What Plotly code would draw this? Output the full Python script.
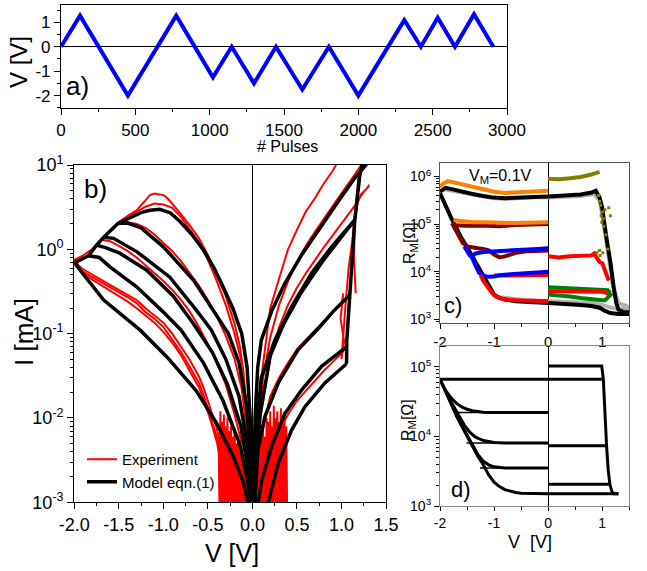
import plotly.graph_objects as go

FONT = "Arial, Liberation Sans, sans-serif"
W, H = 647, 571

# ---------------- Panel a: pulse protocol ----------------
pulse_n = [0, 128, 450, 775, 1022, 1148, 1298, 1446, 1623, 1802, 2000, 2309, 2421, 2534, 2650, 2778, 2908]
pulse_v = [0, 1.27, -2.0, 1.27, -1.25, 0, -1.5, 0, -1.75, 0, -2.0, 1.09, 0, 1.19, 0, 1.33, 0]

# ---------------- Panel b: experiment (red) ----------------
exp_neg1_v = [-2.0, -1.9, -1.8, -1.7, -1.6, -1.5, -1.4, -1.3, -1.2, -1.15, -1.1, -1.05, -1.0, -0.95, -0.9, -0.8, -0.7, -0.6, -0.5, -0.4, -0.3, -0.2, -0.14, -0.1, -0.07, -0.05]
exp_neg1_i = [0.75, 0.85, 1.0, 1.25, 1.6, 2.1, 2.5, 2.9, 3.9, 4.4, 4.6, 4.5, 4.4, 4.0, 3.5, 2.6, 1.9, 1.35, 0.85, 0.5, 0.28, 0.13, 0.07, 0.035, 0.012, 0.003]
exp_neg2_v = [-1.5, -1.4, -1.3, -1.2, -1.1, -1.0, -0.9, -0.8, -0.7, -0.6, -0.5, -0.4, -0.3, -0.2, -0.12, -0.08, -0.05]
exp_neg2_i = [2.1, 2.4, 2.8, 3.2, 3.5, 3.4, 3.1, 2.4, 1.7, 1.2, 0.75, 0.42, 0.22, 0.1, 0.045, 0.02, 0.006]
exp_neg3_v = [-1.5, -1.4, -1.3, -1.2, -1.1, -1.0, -0.9, -0.8, -0.7, -0.6, -0.5, -0.4, -0.3, -0.2, -0.12, -0.07]
exp_neg3_i = [2.0, 2.1, 2.0, 1.8, 1.5, 1.2, 0.95, 0.72, 0.52, 0.37, 0.25, 0.16, 0.095, 0.05, 0.022, 0.008]
exp_neg4_v = [-1.7, -1.6, -1.5, -1.4, -1.3, -1.2, -1.1, -1.0, -0.9, -0.8, -0.7, -0.6, -0.5, -0.4, -0.3, -0.2, -0.12]
exp_neg4_i = [1.3, 1.25, 1.1, 0.95, 0.8, 0.65, 0.52, 0.42, 0.33, 0.25, 0.18, 0.12, 0.075, 0.045, 0.025, 0.011, 0.005]
exp_neg5_v = [-2.0, -1.95, -1.9, -1.8, -1.7, -1.6, -1.5, -1.4, -1.3, -1.2, -1.1, -1.0, -0.9, -0.8, -0.7, -0.6, -0.55, -0.5, -0.45, -0.4, -0.36]
exp_neg5_i = [0.75, 0.6, 0.54, 0.47, 0.41, 0.36, 0.31, 0.27, 0.23, 0.18, 0.15, 0.12, 0.085, 0.06, 0.04, 0.026, 0.019, 0.013, 0.009, 0.006, 0.004]
exp_neg6_i = [0.72, 0.58, 0.51, 0.44, 0.38, 0.33, 0.28, 0.24, 0.2, 0.165, 0.135, 0.105, 0.078, 0.055, 0.036, 0.023, 0.017, 0.012, 0.008, 0.0052, 0.0032]
exp_neg7_i = [0.78, 0.64, 0.58, 0.5, 0.44, 0.38, 0.33, 0.29, 0.25, 0.2, 0.165, 0.135, 0.1, 0.07, 0.048, 0.031, 0.023, 0.016, 0.011, 0.0075, 0.005]

exp_pos1_v = [0.03, 0.06, 0.1, 0.15, 0.2, 0.3, 0.4, 0.5, 0.6, 0.7, 0.8, 0.9, 0.95]
exp_pos1_i = [0.002, 0.01, 0.03, 0.08, 0.2, 0.45, 1.0, 1.7, 2.8, 4.0, 6.0, 8.5, 10.5]
exp_pos2_v = [0.03, 0.07, 0.12, 0.2, 0.3, 0.4, 0.5, 0.6, 0.7, 0.8, 0.9, 1.0, 1.1, 1.2, 1.25]
exp_pos2_i = [0.002, 0.009, 0.03, 0.09, 0.22, 0.42, 0.7, 1.1, 1.6, 2.3, 3.3, 4.6, 6.5, 9.0, 11.0]
exp_pos3_v = [0.05, 0.1, 0.2, 0.3, 0.4, 0.5, 0.6, 0.7, 0.8, 0.9, 1.0, 1.1, 1.15, 1.2, 1.25, 1.3, 1.31, 1.28, 1.22, 1.18, 1.15, 1.14, 1.16]
exp_pos3_i = [0.003, 0.012, 0.05, 0.12, 0.22, 0.35, 0.52, 0.75, 1.05, 1.45, 2.0, 2.8, 3.3, 4.0, 4.8, 5.5, 5.8, 5.2, 4.5, 3.5, 2.2, 0.8, 0.3]
exp_pos4_v = [0.05, 0.1, 0.2, 0.3, 0.4, 0.5, 0.6, 0.7, 0.8, 0.9, 0.95, 1.0, 1.02, 0.99, 1.03, 1.0, 1.05, 1.08, 1.12, 1.15, 1.18, 1.2]
exp_pos4_i = [0.002, 0.006, 0.018, 0.03, 0.045, 0.065, 0.085, 0.11, 0.14, 0.18, 0.2, 0.22, 0.3, 0.15, 0.08, 0.05, 0.25, 0.6, 1.2, 2.5, 5.0, 9.0]
exp_pos5_v = [0.1, 0.2, 0.3, 0.4, 0.5, 0.6, 0.7, 0.8, 0.9, 1.0, 1.03]
exp_pos5_i = [0.002, 0.004, 0.007, 0.011, 0.016, 0.021, 0.028, 0.036, 0.046, 0.058, 0.065]

noise_neg_v = [-0.38, -0.37, -0.36, -0.35, -0.34, -0.33, -0.32, -0.31, -0.30, -0.29, -0.28, -0.27, -0.26, -0.25, -0.24, -0.23, -0.22, -0.21, -0.20, -0.19, -0.18, -0.17, -0.16, -0.15, -0.14, -0.13, -0.12, -0.11, -0.10, -0.09, -0.08, -0.07, -0.06, -0.05]
noise_neg_i = [0.006, 0.0009, 0.012, 0.0008, 0.009, 0.0008, 0.011, 0.0009, 0.008, 0.0008, 0.010, 0.0008, 0.007, 0.0009, 0.008, 0.0008, 0.006, 0.0008, 0.007, 0.0009, 0.005, 0.0008, 0.006, 0.0008, 0.004, 0.0009, 0.0045, 0.0008, 0.003, 0.0008, 0.0025, 0.0009, 0.002, 0.0008]
noise_pos_v = [0.06, 0.07, 0.08, 0.09, 0.10, 0.11, 0.12, 0.13, 0.14, 0.15, 0.16, 0.17, 0.18, 0.19, 0.20, 0.21, 0.22, 0.23, 0.24, 0.25, 0.26, 0.27, 0.28, 0.29, 0.30, 0.31, 0.32, 0.33, 0.34, 0.35, 0.36, 0.37, 0.38, 0.39]
noise_pos_i = [0.003, 0.0008, 0.005, 0.0009, 0.006, 0.0008, 0.008, 0.0008, 0.006, 0.0009, 0.010, 0.0008, 0.009, 0.0008, 0.012, 0.0009, 0.008, 0.0008, 0.014, 0.0008, 0.010, 0.0009, 0.012, 0.0008, 0.009, 0.0008, 0.013, 0.0009, 0.011, 0.0008, 0.012, 0.0008, 0.008, 0.0008]

# ---------------- Panel b: model (black) ----------------
mod_env_v = [-2.0, -1.84, -1.75, -1.67, -1.51, -1.24]
mod_env_i = [0.69, 0.84, 1.12, 1.39, 2.03, 2.75]
mod_n0_v = [-2.0, -1.67, -1.26, -0.96, -0.63, -0.40, -0.215, -0.10, -0.05]
mod_n0_i = [0.69, 0.25, 0.11, 0.053, 0.021, 0.0086, 0.0035, 0.0017, 0.001]
mod_n1_v = [-1.84, -1.72, -1.6, -1.3, -1.0, -0.8, -0.55, -0.33, -0.14, -0.05, -0.02]
mod_n1_i = [0.84, 0.8, 0.62, 0.36, 0.18, 0.11, 0.045, 0.016, 0.0048, 0.0017, 0.001]
mod_n2_v = [-1.75, -1.65, -1.49, -1.19, -0.89, -0.66, -0.45, -0.28, -0.13, -0.05, -0.015]
mod_n2_i = [1.12, 1.05, 0.9, 0.57, 0.28, 0.13, 0.06, 0.025, 0.008, 0.0025, 0.001]
mod_n3_v = [-1.67, -1.56, -1.3, -0.93, -0.63, -0.46, -0.3, -0.15, -0.06, -0.02, -0.012]
mod_n3_i = [1.39, 1.35, 0.94, 0.47, 0.19, 0.11, 0.05, 0.018, 0.005, 0.0015, 0.001]
mod_n4_v = [-1.51, -1.4, -1.25, -1.0, -0.66, -0.4, -0.27, -0.15, -0.07, -0.025, -0.008]
mod_n4_i = [2.03, 2.05, 1.8, 1.07, 0.43, 0.158, 0.1, 0.045, 0.015, 0.004, 0.001]
mod_n5_v = [-1.24, -1.15, -1.04, -0.92, -0.81, -0.68, -0.55, -0.43, -0.33, -0.22, -0.12, -0.06, -0.025, -0.005]
mod_n5_i = [2.75, 2.9, 2.98, 2.7, 2.12, 1.5, 0.98, 0.6, 0.36, 0.2, 0.1, 0.04, 0.01, 0.001]

mod_ptop_v = [0.01, 0.03, 0.06, 0.1, 0.22, 0.365, 0.55, 0.8, 1.0, 1.15, 1.28]
mod_ptop_i = [0.001, 0.01, 0.04, 0.084, 0.19, 0.395, 0.85, 2.1, 4.2, 7.0, 10.2]
mod_p2_v = [0.02, 0.05, 0.1, 0.253, 0.44, 0.664, 0.889, 1.15]
mod_p2_i = [0.001, 0.008, 0.03, 0.084, 0.21, 0.52, 1.07, 2.23]
mod_p2b_v = [0.03, 0.08, 0.2, 0.35, 0.55, 0.8, 1.0, 1.15]
mod_p2b_i = [0.001, 0.01, 0.055, 0.13, 0.31, 0.75, 1.4, 2.23]
mod_p3_v = [0.02, 0.047, 0.14, 0.29, 0.51, 0.6, 0.74, 0.9, 1.094]
mod_p3_i = [0.001, 0.0035, 0.0104, 0.026, 0.064, 0.08, 0.115, 0.18, 0.29]
mod_p4_v = [0.065, 0.103, 0.216, 0.365, 0.552, 0.777, 1.06]
mod_p4_i = [0.001, 0.0018, 0.0046, 0.0113, 0.0214, 0.041, 0.07]
mod_p5_v = [0.178, 0.29, 0.44, 0.59, 0.814, 1.057]
mod_p5_i = [0.001, 0.0029, 0.0072, 0.0136, 0.026, 0.044]
mod_sw_v = [1.057, 1.06, 1.094, 1.15, 1.204, 1.23]
mod_sw_i = [0.044, 0.084, 0.29, 2.23, 7.3, 10.0]

# ---------------- Panel c: measured R_M ----------------
c_series = [
    # (colour, V, R)
    ("#B0B0B0", [-2.0, -1.9, -1.8, -1.6, -1.4, -1.2, -1.0, -0.8, -0.6, -0.4, -0.2, 0.0, 0.3, 0.6, 0.85, 0.95, 1.0, 1.05, 1.12, 1.2, 1.3, 1.5],
     [5.0e5, 5.4e5, 5.1e5, 4.6e5, 4.1e5, 3.8e5, 3.5e5, 3.4e5, 3.5e5, 3.6e5, 3.7e5, 3.6e5, 3.7e5, 3.9e5, 4.3e5, 3.2e5, 1.6e5, 6e4, 2e4, 5e3, 2.2e3, 1.8e3]),
    ("#B0B0B0", [-1.0, -0.8, -0.6, -0.4, -0.2, 0.0, 0.4, 0.8, 1.0, 1.2, 1.5],
     [3.0e3, 2.8e3, 2.6e3, 2.5e3, 2.45e3, 2.4e3, 2.3e3, 2.2e3, 2.0e3, 1.7e3, 1.6e3]),
    ("#000000", [-2.0, -1.9, -1.8, -1.6, -1.4, -1.2, -1.0, -0.8, -0.6, -0.4, -0.2, 0.0],
     [4.8e5, 5.8e5, 5.5e5, 4.8e5, 4.3e5, 3.9e5, 3.6e5, 3.5e5, 3.6e5, 3.7e5, 3.8e5, 3.8e5]),
    ("#000000", [-2.0, -1.95, -1.9, -1.8, -1.7, -1.6, -1.5, -1.4, -1.3, -1.2, -1.1, -1.0, -0.9, -0.8, -0.6, -0.4, -0.2, 0.0],
     [4.5e5, 3.5e5, 2.5e5, 1.4e5, 8e4, 5e4, 3.3e4, 2.1e4, 1.3e4, 8e3, 5e3, 3.3e3, 2.8e3, 2.6e3, 2.4e3, 2.3e3, 2.25e3, 2.2e3]),
    ("#000000", [0.0, 0.2, 0.4, 0.6, 0.8, 0.88, 0.95, 1.0, 1.03, 1.06, 1.1, 1.15, 1.18, 1.22, 1.26, 1.3, 1.4, 1.5],
     [3.8e5, 3.9e5, 4.0e5, 4.2e5, 4.6e5, 5.0e5, 3.6e5, 2.2e5, 1.2e5, 6e4, 3.5e4, 1.6e4, 8e3, 4e3, 2.2e3, 1.6e3, 1.4e3, 1.4e3]),
    ("#000000", [0.0, 0.2, 0.4, 0.6, 0.8, 0.95, 1.05, 1.15, 1.3, 1.5],
     [2.2e3, 2.15e3, 2.1e3, 2.0e3, 1.9e3, 1.75e3, 1.5e3, 1.35e3, 1.3e3, 1.3e3]),
    ("#FF8000", [-2.0, -1.95, -1.85, -1.75, -1.6, -1.4, -1.2, -1.0, -0.8, -0.6, -0.4, -0.2, 0.0],
     [5.8e5, 7.0e5, 8.0e5, 7.5e5, 6.8e5, 6.0e5, 5.3e5, 4.8e5, 4.5e5, 4.6e5, 4.8e5, 4.8e5, 5.0e5]),
    ("#800000", [-1.75, -1.5, -1.2, -0.9, -0.6, -0.3, 0.0],
     [9.5e4, 9.2e4, 9.4e4, 9.0e4, 9.6e4, 1.0e5, 1.0e5]),
    ("#FF8000", [-1.75, -1.6, -1.4, -1.2, -1.0, -0.8, -0.6, -0.4, -0.2, 0.0],
     [1.2e5, 1.15e5, 1.1e5, 1.1e5, 1.08e5, 1.05e5, 1.05e5, 1.07e5, 1.1e5, 1.1e5]),
    ("#800000", [-1.78, -1.72, -1.65, -1.58, -1.5, -1.4, -1.3, -1.2, -1.1, -1.0, -0.9, -0.8, -0.7, -0.6, -0.4, -0.2, 0.0],
     [1.05e5, 8e4, 5.5e4, 4e4, 3.4e4, 3.2e4, 3.1e4, 3.0e4, 2.8e4, 2.3e4, 2.0e4, 2.1e4, 2.3e4, 2.5e4, 2.7e4, 2.8e4, 2.8e4]),
    ("#0000FF", [-1.55, -1.5, -1.45, -1.4, -1.35, -1.2, -1.0, -0.8, -0.6, -0.4, -0.2, 0.0],
     [3.4e4, 2.6e4, 2.2e4, 2.1e4, 2.4e4, 2.6e4, 2.7e4, 2.7e4, 2.8e4, 2.9e4, 3.0e4, 3.1e4]),
    ("#FF0000", [-1.0, -0.8, -0.6, -0.4, -0.2, 0.0],
     [8.3e3, 8.2e3, 8.3e3, 8.4e3, 8.5e3, 8.5e3]),
    ("#0000FF", [-1.42, -1.35, -1.28, -1.2, -1.1, -1.0, -0.9, -0.7, -0.5, -0.3, -0.1, 0.0],
     [2.1e4, 1.4e4, 9.5e3, 8.2e3, 7.8e3, 7.9e3, 8.4e3, 8.8e3, 9.2e3, 9.6e3, 1.0e4, 1.0e4]),
    ("#FF0000", [-1.25, -1.2, -1.1, -1.0, -0.9, -0.8, -0.6, -0.4, -0.2, 0.0],
     [8.5e3, 6.5e3, 4.5e3, 3.2e3, 2.8e3, 2.6e3, 2.5e3, 2.45e3, 2.4e3, 2.4e3]),
    ("#FF0000", [0.0, 0.2, 0.4, 0.6, 0.8, 0.85, 0.9, 0.95, 1.0, 1.05, 1.1, 1.12],
     [2.1e4, 2.0e4, 2.1e4, 2.1e4, 2.2e4, 2.4e4, 2.0e4, 1.6e4, 1.5e4, 1.0e4, 7e3, 6.5e3]),
    ("#008000", [0.0, 0.2, 0.4, 0.6, 0.8, 1.0, 1.1, 1.15],
     [4.7e3, 4.6e3, 4.6e3, 4.5e3, 4.4e3, 4.3e3, 4.1e3, 3.6e3]),
    ("#FF0000", [0.0, 0.3, 0.6, 0.9, 1.0, 1.1, 1.15],
     [3.9e3, 3.9e3, 3.9e3, 3.9e3, 3.8e3, 3.5e3, 3.0e3]),
    ("#008000", [0.0, 0.2, 0.4, 0.6, 0.8, 1.0, 1.05, 1.1, 1.15, 1.18],
     [3.3e3, 3.2e3, 3.0e3, 2.8e3, 2.6e3, 2.5e3, 2.5e3, 2.8e3, 3.2e3, 3.5e3]),
    ("#808000", [0.0, 0.2, 0.4, 0.6, 0.8, 0.95],
     [9.0e5, 8.8e5, 9.2e5, 9.8e5, 1.1e6, 1.25e6]),
]
c_dots_v = [0.93, 0.95, 0.97, 1.0, 0.98, 1.02, 1.05, 0.99, 1.03, 1.07, 1.1, 1.01, 0.96, 0.9, 0.95, 1.12, 1.15]
c_dots_r = [4e5, 3e5, 2.5e5, 1.8e5, 1.5e5, 1.3e5, 2e5, 1.1e5, 9e4, 6e4, 3e4, 2.5e4, 2.2e4, 2.5e4, 2.8e4, 2.2e5, 1.5e5]

# ---------------- Panel d: model R_M ----------------
d_env_v = [-2.0, -1.9, -1.8, -1.7, -1.6, -1.5, -1.4, -1.3, -1.2, -1.1, -1.0, -0.9, -0.8, -0.7, -0.6, -0.5, -0.3, 0.0, 0.5, 1.0, 1.3]
d_env_r = [6.6e4, 4.4e4, 3.0e4, 2.0e4, 1.4e4, 1.0e4, 7.2e3, 5.2e3, 3.9e3, 2.8e3, 2.2e3, 1.9e3, 1.72e3, 1.62e3, 1.56e3, 1.52e3, 1.5e3, 1.5e3, 1.5e3, 1.5e3, 1.5e3]
d_c1_v = [-2.0, -1.9, -1.8, -1.7, -1.6, -1.5, -1.4, -1.3, -1.2, -1.1, -1.0, -0.8, -0.5, 0.0]
d_c1_r = [6.6e4, 4.6e4, 3.6e4, 3.0e4, 2.65e4, 2.45e4, 2.33e4, 2.26e4, 2.22e4, 2.2e4, 2.2e4, 2.2e4, 2.2e4, 2.2e4]
d_c2_v = [-1.85, -1.75, -1.65, -1.55, -1.45, -1.35, -1.2, -1.0, -0.8, 0.0]
d_c2_r = [3.7e4, 2.7e4, 1.95e4, 1.45e4, 1.15e4, 9.8e3, 8.7e3, 8.15e3, 8.0e3, 8.0e3]
d_c3_v = [-1.7, -1.6, -1.5, -1.4, -1.3, -1.2, -1.1, -1.0, -0.8, 0.0]
d_c3_r = [2.0e4, 1.45e4, 1.08e4, 7.5e3, 5.5e3, 4.4e3, 3.9e3, 3.65e3, 3.52e3, 3.5e3]
d_thin_levels = [2.2e4, 8.0e3, 3.5e3]
d_thin_start = [-1.72, -1.51, -1.26]
d_top_v = [-2.0, 1.02]
d_top_r = [6.6e4, 6.6e4]
d_sw_v = [0.0, 0.99, 1.02, 1.05, 1.08, 1.11, 1.14, 1.18, 1.22, 1.3]
d_sw_r = [1.02e5, 1.02e5, 6.6e4, 2.0e4, 7.3e3, 3.3e3, 2.05e3, 1.6e3, 1.5e3, 1.5e3]
d_pos_levels = [7.3e3, 2.05e3]
d_pos_end = [1.08, 1.14]

fig = go.Figure()

# panel a
fig.add_trace(go.Scatter(x=pulse_n, y=pulse_v, xaxis="x", yaxis="y", mode="lines",
                         line=dict(color="#0000FF", width=4), showlegend=False))

# panel b: red
red_sets = [
    (exp_neg5_v, exp_neg5_i), (exp_neg5_v, exp_neg6_i), (exp_neg5_v, exp_neg7_i),
    (exp_neg4_v, exp_neg4_i), (exp_neg3_v, exp_neg3_i), (exp_neg2_v, exp_neg2_i), (exp_neg1_v, exp_neg1_i),
    (exp_pos1_v, exp_pos1_i), (exp_pos2_v, exp_pos2_i), (exp_pos3_v, exp_pos3_i),
    (exp_pos4_v, exp_pos4_i), (exp_pos5_v, exp_pos5_i),
    (noise_neg_v, noise_neg_i), (noise_pos_v, noise_pos_i),
]
for k, (v, i) in enumerate(red_sets):
    fig.add_trace(go.Scatter(x=v, y=i, xaxis="x2", yaxis="y2", mode="lines",
                             line=dict(color="#FF0000", width=2),
                             name="Experiment", legendgroup="exp", showlegend=(k == 0)))

black_sets = [
    (mod_env_v, mod_env_i), (mod_n0_v, mod_n0_i), (mod_n1_v, mod_n1_i), (mod_n2_v, mod_n2_i),
    (mod_n3_v, mod_n3_i), (mod_n4_v, mod_n4_i), (mod_n5_v, mod_n5_i),
    (mod_ptop_v, mod_ptop_i), (mod_p2_v, mod_p2_i), (mod_p2b_v, mod_p2b_i), (mod_p3_v, mod_p3_i),
    (mod_p4_v, mod_p4_i), (mod_p5_v, mod_p5_i), (mod_sw_v, mod_sw_i),
]
for k, (v, i) in enumerate(black_sets):
    fig.add_trace(go.Scatter(x=v, y=i, xaxis="x2", yaxis="y2", mode="lines",
                             line=dict(color="#000000", width=3.5),
                             name="Model eqn.(1)", legendgroup="mod", showlegend=(k == 0)))

# panel c
for col, v, r in c_series:
    fig.add_trace(go.Scatter(x=v, y=r, xaxis="x3", yaxis="y3", mode="lines",
                             line=dict(color=col, width=4), showlegend=False))
fig.add_trace(go.Scatter(x=c_dots_v, y=c_dots_r, xaxis="x3", yaxis="y3", mode="markers",
                         marker=dict(color="#808000", size=3, symbol="square"), showlegend=False))

# panel d
for lvl, v0 in zip(d_thin_levels, d_thin_start):
    fig.add_trace(go.Scatter(x=[v0, 0.0], y=[lvl, lvl], xaxis="x4", yaxis="y4", mode="lines",
                             line=dict(color="#000000", width=1.5), showlegend=False))
for v, r in [(d_env_v, d_env_r), (d_c1_v, d_c1_r), (d_c2_v, d_c2_r), (d_c3_v, d_c3_r),
             (d_top_v, d_top_r), (d_sw_v, d_sw_r)]:
    fig.add_trace(go.Scatter(x=v, y=r, xaxis="x4", yaxis="y4", mode="lines",
                             line=dict(color="#000000", width=3), showlegend=False))
for lvl, v1 in zip(d_pos_levels, d_pos_end):
    fig.add_trace(go.Scatter(x=[0.0, v1], y=[lvl, lvl], xaxis="x4", yaxis="y4", mode="lines",
                             line=dict(color="#000000", width=3), showlegend=False))


def px_x(p):
    return p / W


def px_y(p):
    return 1 - p / H


def axis(domain, anchor, rng, tickvals, ticktext, minor_vals, fsize, typ="linear",
         linecolor="#000000", zeroline=False, ticklen=6):
    return dict(domain=domain, anchor=anchor, range=rng, type=typ, tickmode="array",
                tickvals=tickvals, ticktext=ticktext, ticks="outside", ticklen=ticklen,
                tickwidth=1.2, tickcolor="#000000", showline=True, linecolor=linecolor,
                linewidth=1.2, mirror=True, showgrid=False, zeroline=zeroline,
                zerolinecolor="#000000", zerolinewidth=1.2, automargin=False,
                tickfont=dict(family=FONT, size=fsize, color="#000000"),
                minor=dict(tickmode="array", tickvals=minor_vals, ticks="outside",
                           ticklen=3, tickwidth=1, tickcolor="#000000", showgrid=False))


def sup(e):
    return "10<sup>%d</sup>" % e


log_minor_b = [m * 10.0 ** e for e in range(-3, 1) for m in range(2, 10)]
log_minor_c = [m * 10.0 ** e for e in range(2, 7) for m in range(2, 10)]

fig.update_layout(
    width=W, height=H, margin=dict(l=0, r=0, t=0, b=0, autoexpand=False),
    paper_bgcolor="white", plot_bgcolor="white",
    font=dict(family=FONT, color="#000000"),
    xaxis=axis([px_x(61), px_x(507)], "y", [0, 3000], [0, 500, 1000, 1500, 2000, 2500, 3000],
               ["0", "500", "1000", "1500", "2000", "2500", "3000"], [250, 750, 1250, 1750, 2250, 2750], 17),
    yaxis=axis([px_y(108.3), px_y(4.7)], "x", [-2.52, 1.72], [-2, -1, 0, 1], ["-2", "-1", "0", "1"],
               [-2.5, -1.5, -0.5, 0.5, 1.5], 17, zeroline=True),
    xaxis2=axis([px_x(74.3), px_x(386)], "y2", [-2, 1.5], [-2, -1.5, -1, -0.5, 0, 0.5, 1, 1.5],
                ["-2.0", "-1.5", "-1.0", "-0.5", "0.0", "0.5", "1.0", "1.5"],
                [-1.75, -1.25, -0.75, -0.25, 0.25, 0.75, 1.25], 18, zeroline=True),
    yaxis2=axis([px_y(502.3), px_y(165)], "x2", [-3, 1], [1e-3, 1e-2, 1e-1, 1, 10],
                [sup(-3), sup(-2), sup(-1), sup(0), sup(1)], log_minor_b, 18, typ="log"),
    xaxis3=axis([px_x(440), px_x(629.3)], "y3", [-2, 1.5], [-2, -1, 0, 1], ["-2", "-1", "0", "1"],
                [-1.5, -0.5, 0.5, 1.5], 15, linecolor="#555555", zeroline=True, ticklen=5),
    yaxis3=axis([px_y(323.3), px_y(162.7)], "x3", [2.916, 6.29], [1e3, 1e4, 1e5, 1e6],
                [sup(3), sup(4), sup(5), sup(6)], log_minor_c, 14, typ="log", linecolor="#555555", ticklen=5),
    xaxis4=axis([px_x(440), px_x(629.3)], "y4", [-2, 1.5], [-2, -1, 0, 1], ["-2", "-1", "0", "1"],
                [-1.5, -0.5, 0.5, 1.5], 14, linecolor="#888888", zeroline=True, ticklen=4),
    yaxis4=axis([px_y(506), px_y(346)], "x4", [3, 5.297], [1e3, 1e4, 1e5],
                [sup(3), sup(4), sup(5)], log_minor_c, 14, typ="log", linecolor="#888888", ticklen=5),
    legend=dict(x=px_x(82), y=px_y(443), xanchor="left", yanchor="top",
                bgcolor="rgba(0,0,0,0)", font=dict(family=FONT, size=15, color="#000000"),
                itemwidth=30, tracegroupgap=0),
)

ann = [
    ("V [V]", 18, 62, 24, -90),
    ("# Pulses", 287, 147, 16, 0),
    ("a)", 77, 86, 26, 0),
    ("I [mA]", 24, 332, 26, -90),
    ("V [V]", 232, 553, 25, 0),
    ("b)", 95, 189, 26, 0),
    ("R<sub>M</sub>[Ω]", 411, 243, 16, -90),
    ("V<sub>M</sub>=0.1V", 500, 176, 16, 0),
    ("c)", 453, 305, 22, 0),
    ("R<sub>M</sub>[Ω]", 408, 420, 16, -90),
    ("V  [V]", 530, 542, 18, 0),
    ("d)", 461, 489, 22, 0),
]
for txt, x, y, s, ang in ann:
    fig.add_annotation(text=txt, x=px_x(x), y=px_y(y), xref="paper", yref="paper",
                       xanchor="center", yanchor="middle", showarrow=False, textangle=ang,
                       font=dict(family=FONT, size=s, color="#000000"))

fig.write_html("out.html")
